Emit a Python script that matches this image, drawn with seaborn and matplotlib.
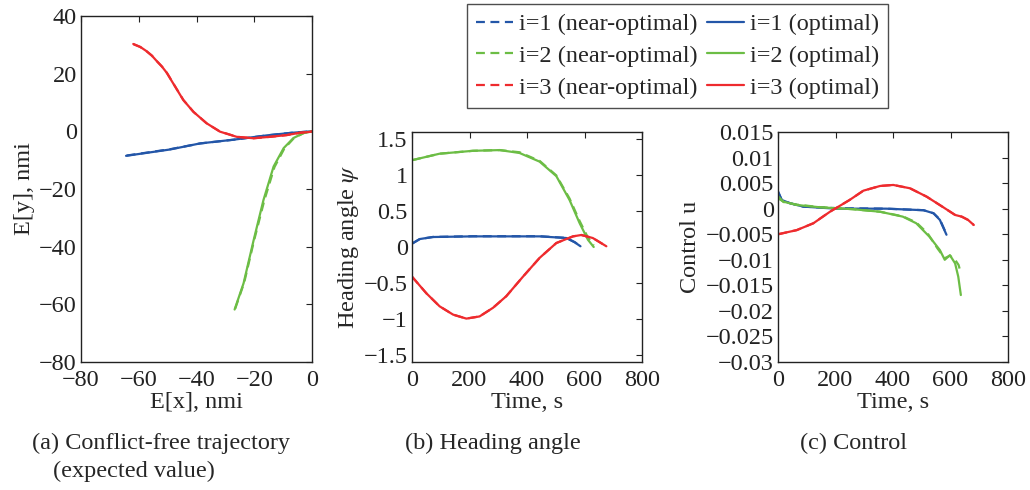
import numpy as np
import pandas as pd
import matplotlib
matplotlib.use("Agg")
import matplotlib.pyplot as plt
import seaborn as sns
from matplotlib.lines import Line2D

# ---- trajectory data (expected position, nmi) ----
ex1_opt = [-64.4, -49.2, -38.8, -27.2, -15.6, -7.0, 0.0]
ey1_opt = [-8.5, -6.3, -4.2, -2.9, -1.4, -0.5, 0.0]
ex1_near = [-64.2, -49.1, -38.7, -27.1, -15.5, -7.0, 0.0]
ey1_near = [-8.4, -6.2, -4.2, -2.9, -1.4, -0.5, 0.0]

ex2_opt = [-26.8, -23.7, -20.2, -16.8, -13.3, -9.8, -6.4, -2.9, 0.0]
ey2_opt = [-61.8, -52.7, -37.7, -23.8, -12.2, -5.8, -2.3, -0.6, 0.0]
ex2_near = [-26.6, -23.5, -20.0, -16.5, -13.0, -9.6, -6.3, -2.9, 0.0]
ey2_near = [-61.5, -52.5, -37.6, -23.9, -12.4, -6.0, -2.4, -0.6, 0.0]

ex3_opt = [-61.9, -59.5, -57.3, -55.5, -53.8, -52.0, -50.3, -47.4, -44.6, -41.1, -36.5, -31.9, -26.1,
           -20.3, -14.5, -8.8, -4.2, -0.7, 0.0]
ey3_opt = [30.3, 29.3, 27.8, 26.3, 24.4, 22.5, 20.3, 15.5, 10.9, 6.8, 2.8, -0.1, -1.9,
           -2.4, -1.9, -1.3, -0.5, -0.2, 0.0]
ex3_near = [-61.8, -59.4, -57.2, -55.4, -53.7, -51.9, -50.2, -47.3, -44.5, -41.0, -36.4, -31.8, -26.0,
            -20.2, -14.4, -8.7, -4.2, -0.7, 0.0]
ey3_near = [30.2, 29.2, 27.7, 26.2, 24.3, 22.4, 20.2, 15.4, 10.8, 6.7, 2.7, -0.1, -1.9,
            -2.4, -1.9, -1.3, -0.5, -0.2, 0.0]

# ---- heading angle data (rad) ----
t1_psi = [0, 27, 73, 212, 444, 537, 566, 586]
psi1_opt = [0.046, 0.11, 0.138, 0.147, 0.147, 0.124, 0.065, 0.01]
psi1_near = [0.046, 0.11, 0.139, 0.149, 0.149, 0.126, 0.067, 0.012]

t2_psi = [0, 96, 212, 305, 374, 444, 502, 548, 583, 612, 632]
psi2_opt = [1.20, 1.29, 1.33, 1.34, 1.30, 1.18, 0.98, 0.65, 0.33, 0.10, 0.0]
psi2_near = [1.20, 1.29, 1.33, 1.34, 1.31, 1.19, 0.99, 0.67, 0.36, 0.13, 0.02]

t3_psi = [0, 50, 96, 143, 189, 235, 282, 328, 386, 444, 502, 560, 589, 629, 676]
psi3_opt = [-0.41, -0.64, -0.82, -0.935, -0.99, -0.96, -0.84, -0.68, -0.41, -0.15, 0.055, 0.147, 0.166, 0.124, 0.01]
psi3_near = [-0.41, -0.64, -0.82, -0.935, -0.99, -0.96, -0.84, -0.68, -0.41, -0.15, 0.055, 0.147, 0.166, 0.124, 0.01]

# ---- control data ----
t1_u = [1, 13, 42, 88, 202, 376, 506, 541, 563, 586]
u1_opt = [0.0033, 0.0017, 0.00106, 0.0004, 0.0, 0.0, -0.0003, -0.0009, -0.0022, -0.0051]
u1_near = [0.0031, 0.0017, 0.00106, 0.0004, 0.0001, 0.0, -0.0003, -0.0009, -0.0021, -0.0050]

t2_u = [1, 19, 65, 146, 260, 355, 434, 481, 527, 563, 580, 598, 616, 627, 636]
u2_opt = [0.0020, 0.00137, 0.00072, 0.00027, -0.0001, -0.0006, -0.00156, -0.00286,
          -0.0055, -0.0081, -0.0100, -0.0091, -0.0107, -0.0133, -0.0169]
t2_u_near = [1, 19, 65, 146, 260, 355, 434, 481, 520, 555, 580, 598, 616, 628, 634]
u2_near = [0.0024, 0.0013, 0.0008, 0.0003, -0.0001, -0.0006, -0.0015, -0.0027,
           -0.0048, -0.0078, -0.0097, -0.0092, -0.0100, -0.0110, -0.0122]

t3_u = [1, 65, 123, 181, 249, 297, 355, 401, 459, 517, 575, 616, 639, 661, 681]
u3_opt = [-0.0050, -0.0042, -0.00286, -0.00059, 0.0017, 0.00352, 0.00444, 0.00464,
          0.00399, 0.00235, 0.00027, -0.00123, -0.00156, -0.0022, -0.0032]
u3_near = [-0.0050, -0.0042, -0.00285, -0.00058, 0.0017, 0.00352, 0.00444, 0.00464,
           0.00399, 0.00235, 0.00027, -0.00123, -0.00156, -0.0022, -0.0032]

labels = ["i=1", "i=2", "i=3"]
colors = ["#2356a8", "#6cbd45", "#ee2b2e"]

# tick values and labels
a_xticks = [-80, -60, -40, -20, 0]
a_xlabels = ["\u221280", "\u221260", "\u221240", "\u221220", "0"]
a_yticks = [40, 20, 0, -20, -40, -60, -80]
a_ylabels = ["40", "20", "0", "\u221220", "\u221240", "\u221260", "\u221280"]
t_ticks = [0, 200, 400, 600, 800]
t_labels = ["0", "200", "400", "600", "800"]
b_yticks = [1.5, 1, 0.5, 0, -0.5, -1, -1.5]
b_ylabels = ["1.5", "1", "0.5", "0", "\u22120.5", "\u22121", "\u22121.5"]
c_yticks = [0.015, 0.01, 0.005, 0, -0.005, -0.01, -0.015, -0.02, -0.025, -0.03]
c_ylabels = ["0.015", "0.01", "0.005", "0", "\u22120.005", "\u22120.01", "\u22120.015",
             "\u22120.02", "\u22120.025", "\u22120.03"]

sns.set_style("white")
plt.rcParams["font.family"] = ["Liberation Serif", "DejaVu Serif"]
plt.rcParams["mathtext.fontset"] = "stix"
FS = 17.5

fig = plt.figure(figsize=(10.3, 4.9), dpi=100)
W, H = 1030.0, 490.0


def make_axes(l, t, r, b):
    return fig.add_axes([l / W, 1 - b / H, (r - l) / W, (b - t) / H])


ax_a = make_axes(81, 16, 312, 362)
ax_b = make_axes(412, 132, 642, 362)
ax_c = make_axes(778, 132, 1008, 362)

LW = 1.6
DASH = (0, (4, 2.5))


def draw(ax, x, y, color, dashed):
    df = pd.DataFrame({"x": x, "y": y})
    sns.lineplot(data=df, x="x", y="y", ax=ax, color=color, sort=False,
                 estimator=None, lw=LW, linestyle=DASH if dashed else "-")


# (a) trajectories
for (xn, yn, xo, yo), c in zip([(ex1_near, ey1_near, ex1_opt, ey1_opt),
                                (ex2_near, ey2_near, ex2_opt, ey2_opt),
                                (ex3_near, ey3_near, ex3_opt, ey3_opt)], colors):
    draw(ax_a, xo, yo, c, False)
    draw(ax_a, xn, yn, c, True)

# (b) heading angle
for (t, pn, po), c in zip([(t1_psi, psi1_near, psi1_opt),
                           (t2_psi, psi2_near, psi2_opt),
                           (t3_psi, psi3_near, psi3_opt)], colors):
    draw(ax_b, t, po, c, False)
    draw(ax_b, t, pn, c, True)

# (c) control
for (tn, un, to, uo), c in zip([(t1_u, u1_near, t1_u, u1_opt),
                                (t2_u_near, u2_near, t2_u, u2_opt),
                                (t3_u, u3_near, t3_u, u3_opt)], colors):
    draw(ax_c, to, uo, c, False)
    draw(ax_c, tn, un, c, True)

ax_a.set_xlim(-80, 0)
ax_a.set_ylim(-80, 40)
ax_a.set_xticks(a_xticks, a_xlabels)
ax_a.set_yticks(a_yticks, a_ylabels)
ax_a.set_xlabel("E[x], nmi", fontsize=FS, labelpad=0.5)
ax_a.set_ylabel("E[y], nmi", fontsize=FS, labelpad=3)

ax_b.set_xlim(0, 800)
ax_b.set_ylim(-1.59, 1.59)
ax_b.set_xticks(t_ticks, t_labels)
ax_b.set_yticks(b_yticks, b_ylabels)
ax_b.set_xlabel("Time, s", fontsize=FS, labelpad=0.5)
ax_b.set_ylabel(r"Heading angle $\psi$", fontsize=FS, labelpad=2)

ax_c.set_xlim(0, 800)
ax_c.set_ylim(-0.03, 0.015)
ax_c.set_xticks(t_ticks, t_labels)
ax_c.set_yticks(c_yticks, c_ylabels)
ax_c.set_xlabel("Time, s", fontsize=FS, labelpad=0.5)
ax_c.set_ylabel("Control u", fontsize=FS, labelpad=3)

for ax in (ax_a, ax_b, ax_c):
    ax.tick_params(direction="in", top=True, right=True, length=4, width=0.8,
                   labelsize=FS, colors="#222222")
    ax.tick_params(axis="x", pad=6)
    ax.tick_params(axis="y", pad=3)
    for s in ax.spines.values():
        s.set_color("#222222")
        s.set_linewidth(1.0)
    ax.set_facecolor("white")

# shared legend
handles = []
names = []
for lab, c in zip(labels, colors):
    handles.append(Line2D([], [], color=c, lw=LW, linestyle=DASH))
    names.append(f"{lab} (near-optimal)")
for lab, c in zip(labels, colors):
    handles.append(Line2D([], [], color=c, lw=LW))
    names.append(f"{lab} (optimal)")
leg = fig.legend(handles, names, ncol=2, loc="upper left",
                 bbox_to_anchor=(467 / W, 1 - 4 / H), fontsize=FS,
                 frameon=True, fancybox=False, edgecolor="#222222",
                 handlelength=1.5, handletextpad=0.25, columnspacing=0.4,
                 labelspacing=0.4, borderpad=0.38, borderaxespad=0)
leg.get_frame().set_linewidth(1.0)

# sub-figure captions
fig.text(32 / W, 1 - 443 / H, "(a) Conflict-free trajectory", fontsize=FS, va="center")
fig.text(53 / W, 1 - 471 / H, "(expected value)", fontsize=FS, va="center")
fig.text(405 / W, 1 - 443 / H, "(b) Heading angle", fontsize=FS, va="center")
fig.text(800 / W, 1 - 443 / H, "(c) Control", fontsize=FS, va="center")

fig.savefig("out.png", dpi=100, facecolor="white")
